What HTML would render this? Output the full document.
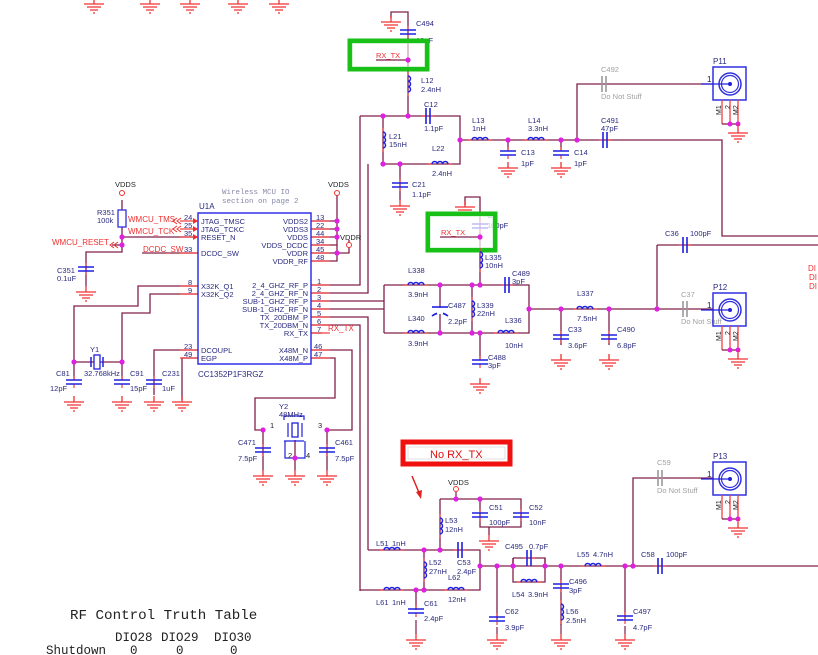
<!DOCTYPE html>
<html><head><meta charset="utf-8"><style>
html,body{margin:0;padding:0;background:#fff;width:818px;height:655px;overflow:hidden}
svg{display:block}
text{font-family:"Liberation Sans",sans-serif;font-size:7.5px;fill:#2a2a80}
.r{fill:#f03030}
.g{fill:#a0a0a0}
.m{font-family:"Liberation Mono",monospace;fill:#222}
</style></head><body>
<svg width="818" height="655" viewBox="0 0 818 655" xmlns="http://www.w3.org/2000/svg">
<defs>
<g id="gnd"><path d="M0,-6V0M-10,0H10M-7,3H7M-4,6H4M-1,9H1" stroke="#f03030" stroke-width="1.3" fill="none"/></g>
<g id="cv"><path d="M0,-6V-2M0,2V6" stroke="#f04040" stroke-width="1.2"/><path d="M-8,-2H8M-8,2H8" stroke="#2020e0" stroke-width="1.6"/></g>
<g id="ch"><path d="M-6,0H-2M2,0H6" stroke="#f04040" stroke-width="1.2"/><path d="M-2,-8V8M2,-8V8" stroke="#2020e0" stroke-width="1.6"/></g>
<g id="chg"><path d="M-2,-8V8M2,-8V8" stroke="#999" stroke-width="1.6"/></g>
<g id="ih"><path d="M-12,0H-8M8,0H12" stroke="#f04040" stroke-width="1.2"/><path d="M-8,0a2.67,2.67 0 0 1 5.33,0a2.67,2.67 0 0 1 5.33,0a2.67,2.67 0 0 1 5.33,0" stroke="#2020e0" stroke-width="1.5" fill="none"/></g>
<g id="iv"><use href="#ih" transform="rotate(90)"/></g>
<circle id="d" r="2.6" fill="#e020e0"/>
<g id="conn">
<rect x="0" y="0" width="33" height="33" fill="none" stroke="#3030e0" stroke-width="1.5"/>
<circle cx="17" cy="17" r="11" fill="none" stroke="#3030e0" stroke-width="1.5"/>
<circle cx="17" cy="17" r="8.5" fill="none" stroke="#3030e0" stroke-width="1.2"/>
<circle cx="17" cy="17" r="2" fill="#2020e0"/>
<path d="M-12,17H17" stroke="#2020e0" stroke-width="1.2"/>
<path d="M9,33V57M17,33V57M25,33V57" stroke="#f04040" stroke-width="1.3"/>
<path d="M9,57H25" stroke="#80204a" stroke-width="1.3"/>
<circle cx="17" cy="57" r="2.5" fill="#e020e0"/><circle cx="25" cy="57" r="2.5" fill="#e020e0"/>
<path d="M25,57V60" stroke="#f03030"/>
<use href="#gnd" x="25" y="66"/>
<text x="-6" y="15" style="font-size:8px;fill:#222">1</text>
<text transform="translate(8,48) rotate(-90)" style="font-size:7px;fill:#222">M1</text>
<text transform="translate(17,42) rotate(-90)" style="font-size:7px;fill:#222">2</text>
<text transform="translate(25,48) rotate(-90)" style="font-size:7px;fill:#222">M2</text>
</g>
</defs>

<g stroke="#80204a"><path d="M94,0V4M150,0V4M190,0V4M238,0V4M279,0V4"/></g>
<use href="#gnd" x="94" y="4"/><use href="#gnd" x="150" y="4"/><use href="#gnd" x="190" y="4"/><use href="#gnd" x="238" y="4"/><use href="#gnd" x="279" y="4"/>

<g stroke="#80204a" stroke-width="1.3" fill="none">
<path d="M391,18V12H408V116"/>
<path d="M360,116H460V164H383V116M460,140H577M577,140V84H713M577,140H722V236H818"/>
<path d="M400,164V200M508,140V150M561,140V150"/>
<path d="M360,116V285H311M368,164V293H311"/>
<path d="M311,221H337V261H311M311,229H337M311,237H337M311,245H337M311,253H349V240M311,261H337"/>
<path d="M337,195V221"/>
<path d="M311,301H384M311,309H384M384,285V333"/>
<path d="M311,317H368V550M311,325H360V591"/>
<path d="M311,333H322"/>
<path d="M311,350H352V430H327M311,358H335V398H255V430H263"/>
<path d="M122,200V237H198M122,237V252H86V286M122,245H112"/>
<path d="M142,253H198"/>
<path d="M198,286H138V306H74V380M198,294H150V313H122V380"/>
<path d="M198,350H154V395M198,358H182V400"/>
<path d="M74,362H122"/>
<path d="M263,430V470M327,430V470M295,440V470"/>
<path d="M465,205V197H480V285"/>
<path d="M384,285H529V333H384M440,285V333M472,285V333M480,333V360M529,309H657M561,309V345M609,309V345M657,245V309H713M657,245H818"/>
<path d="M368,550H480V590H360M424,550V590M416,590V610M440,499V550M440,499H521V527H480V499M489,527V535"/>
<path d="M480,566H633V478H713M633,566H818M497,566V620M513,558V582H545V558H513M561,566V625M625,566V620"/>
<path d="M513,566V558M545,566V558"/>
</g>

<g stroke="#f04040" stroke-width="1.3">
<path d="M180,221H198M180,229H198M180,237H198M180,253H198M180,286H198M180,294H198M180,350H198M180,358H198"/>
<path d="M311,221H330M311,229H330M311,237H330M311,245H330M311,253H330M311,261H330M311,285H330M311,293H330M311,301H330M311,309H330M311,317H330M311,325H330M311,333H330M311,350H330M311,358H330"/>
</g>

<rect x="198" y="213" width="113" height="151" fill="none" stroke="#3030e8" stroke-width="1.5"/>
<g style="font-size:8px">
<text x="201" y="224">JTAG_TMSC</text><text x="201" y="232">JTAG_TCKC</text><text x="201" y="240">RESET_N</text>
<text x="201" y="256">DCDC_SW</text><text x="201" y="289">X32K_Q1</text><text x="201" y="297">X32K_Q2</text>
<text x="201" y="353">DCOUPL</text><text x="201" y="361">EGP</text>
</g>
<g style="font-size:8px" text-anchor="end">
<text x="308" y="224">VDDS2</text><text x="308" y="232">VDDS3</text><text x="308" y="240">VDDS</text><text x="308" y="248">VDDS_DCDC</text><text x="308" y="256">VDDR</text><text x="308" y="264">VDDR_RF</text>
<text x="308" y="288">2_4_GHZ_RF_P</text><text x="308" y="296">2_4_GHZ_RF_N</text><text x="308" y="304">SUB-1_GHZ_RF_P</text><text x="308" y="312">SUB-1_GHZ_RF_N</text><text x="308" y="320">TX_20DBM_P</text><text x="308" y="328">TX_20DBM_N</text><text x="308" y="336">RX_TX</text>
<text x="308" y="353">X48M_N</text><text x="308" y="361">X48M_P</text>
</g>
<g style="font-size:7.5px;fill:#222">
<text x="184" y="220">24</text><text x="184" y="228">25</text><text x="184" y="236">35</text><text x="184" y="252">33</text><text x="188" y="285">8</text><text x="188" y="293">9</text><text x="184" y="349">23</text><text x="184" y="357">49</text>
<text x="316" y="220">13</text><text x="316" y="228">22</text><text x="316" y="236">44</text><text x="316" y="244">34</text><text x="316" y="252">45</text><text x="316" y="260">48</text>
<text x="317" y="284">1</text><text x="317" y="292">2</text><text x="317" y="300">3</text><text x="317" y="308">4</text><text x="317" y="316">5</text><text x="317" y="324">6</text><text x="317" y="332">7</text><text x="314" y="349">46</text><text x="314" y="357">47</text>
</g>
<text x="199" y="209" style="font-size:8px">U1A</text>
<text x="222" y="194" style="font-family:'Liberation Mono',monospace;font-size:7.5px;fill:#8888aa">Wireless MCU IO</text>
<text x="222" y="203" style="font-family:'Liberation Mono',monospace;font-size:7.5px;fill:#8888aa">section on page 2</text>
<text x="198" y="377" style="font-size:8px">CC1352P1F3RGZ</text>
<text x="328" y="331" class="r" style="font-size:8px">RX_TX</text>

<text x="115" y="187" style="font-size:7.5px;fill:#222">VDDS</text><circle cx="122" cy="193" r="2.5" fill="#fff" stroke="#f03030"/>
<text x="328" y="187" style="font-size:7.5px;fill:#222">VDDS</text><circle cx="337" cy="193" r="2.5" fill="#fff" stroke="#f03030"/>
<text x="340" y="240" style="font-size:7.5px;fill:#222">VDDR</text><circle cx="349" cy="245" r="2.5" fill="#fff" stroke="#f03030"/>
<rect x="118" y="210" width="8" height="17" fill="#fff" stroke="#3030e0" stroke-width="1.3"/>
<text x="97" y="215">R351</text><text x="97" y="223">100k</text>
<text x="128" y="222" class="r" style="font-size:8px">WMCU_TMS</text>
<text x="128" y="234" class="r" style="font-size:8px">WMCU_TCK</text>
<text x="52" y="245" class="r" style="font-size:8px">WMCU_RESET</text>
<text x="143" y="252" class="r" style="font-size:8px">DCDC_SW</text>
<g stroke="#f03030" fill="none" stroke-width="1"><path d="M181,218l-4,3 4,3M177,218l-4,3 4,3M181,226l-4,3 4,3M177,226l-4,3 4,3M118,242l-4,3 4,3M114,242l-4,3 4,3"/></g>
<g fill="#f03030"><path d="M193,218l5,3-5,3zM193,226l5,3-5,3zM193,234l5,3-5,3z"/></g>
<use href="#cv" x="86" y="269"/><text x="57" y="273">C351</text><text x="57" y="281">0.1uF</text>
<use href="#gnd" x="86" y="292"/>
<use href="#d" x="122" y="237"/><use href="#d" x="122" y="245"/>
<use href="#d" x="337" y="221"/><use href="#d" x="337" y="229"/><use href="#d" x="337" y="237"/><use href="#d" x="337" y="253"/>

<rect x="94" y="355" width="6" height="14" fill="#fff" stroke="#2020e0" stroke-width="1.3"/>
<path d="M91,357V367M103,357V367" stroke="#2020e0" stroke-width="1.5"/>
<use href="#d" x="74" y="362"/><use href="#d" x="122" y="362"/>
<text x="90" y="352">Y1</text><text x="84" y="376">32.768kHz</text>
<use href="#cv" x="74" y="382"/><text x="56" y="376">C81</text><text x="50" y="391">12pF</text>
<use href="#cv" x="122" y="382"/><text x="130" y="376">C91</text><text x="130" y="391">15pF</text>
<use href="#cv" x="154" y="382"/><text x="162" y="376">C231</text><text x="162" y="391">1uF</text>
<use href="#gnd" x="74" y="402"/><use href="#gnd" x="122" y="402"/><use href="#gnd" x="154" y="402"/><use href="#gnd" x="182" y="402"/>
<rect x="292" y="423" width="6" height="14" fill="#fff" stroke="#2020e0" stroke-width="1.3"/>
<path d="M288,423V437M302,423V437M284,420V416H304V420M284,441H304M285,441V458H305V441" stroke="#2020e0" stroke-width="1.2" fill="none"/>
<text x="279" y="409">Y2</text><text x="279" y="417">48MHz</text>
<text x="270" y="428" style="fill:#222">1</text><text x="318" y="428" style="fill:#222">3</text><text x="288" y="458" style="fill:#222">2</text><text x="306" y="458" style="fill:#222">4</text>
<use href="#d" x="263" y="430"/><use href="#d" x="327" y="430"/><use href="#d" x="295" y="458"/>
<use href="#cv" x="263" y="450"/><text x="238" y="445">C471</text><text x="238" y="461">7.5pF</text>
<use href="#cv" x="327" y="450"/><text x="335" y="445">C461</text><text x="335" y="461">7.5pF</text>
<use href="#gnd" x="263" y="476"/><use href="#gnd" x="295" y="476"/><use href="#gnd" x="327" y="476"/>

<use href="#gnd" x="391" y="22"/>
<use href="#cv" x="408" y="32"/><text x="416" y="26">C494</text><text x="416" y="43">12pF</text>
<rect x="350" y="41" width="77" height="28" fill="none" stroke="#18c018" stroke-width="5"/>
<rect x="352" y="43" width="73" height="24" fill="#fff" opacity="0.6"/>
<path d="M376,60H408" stroke="#80204a" stroke-width="1.3"/>
<text x="376" y="58" class="r" style="font-size:7.5px">RX_TX</text>
<use href="#d" x="408" y="60"/>
<use href="#iv" x="408" y="84"/><text x="421" y="83">L12</text><text x="421" y="92">2.4nH</text>
<use href="#ch" x="428" y="116"/><text x="424" y="107">C12</text><text x="424" y="131">1.1pF</text>
<use href="#iv" x="383" y="140"/><text x="389" y="139">L21</text><text x="389" y="147">15nH</text>
<use href="#ih" x="440" y="164"/><text x="432" y="151">L22</text><text x="432" y="176">2.4nH</text>
<use href="#ih" x="480" y="140"/><text x="472" y="123">L13</text><text x="472" y="131">1nH</text>
<use href="#ih" x="536" y="140"/><text x="528" y="123">L14</text><text x="528" y="131">3.3nH</text>
<use href="#cv" x="508" y="153"/><text x="521" y="155">C13</text><text x="521" y="166">1pF</text>
<use href="#cv" x="561" y="153"/><text x="574" y="155">C14</text><text x="574" y="166">1pF</text>
<use href="#gnd" x="508" y="168"/><use href="#gnd" x="561" y="168"/>
<use href="#chg" x="604" y="84"/><text x="601" y="72" class="g">C492</text><text x="601" y="99" class="g">Do Not Stuff</text>
<use href="#ch" x="605" y="140"/><text x="601" y="123">C491</text><text x="601" y="131">47pF</text>
<use href="#cv" x="400" y="185"/><text x="412" y="187">C21</text><text x="412" y="197">1.1pF</text>
<use href="#gnd" x="400" y="206"/>
<use href="#d" x="408" y="116"/><use href="#d" x="383" y="116"/><use href="#d" x="460" y="140"/><use href="#d" x="383" y="164"/><use href="#d" x="400" y="164"/><use href="#d" x="508" y="140"/><use href="#d" x="561" y="140"/><use href="#d" x="577" y="140"/>
<use href="#conn" x="713" y="67"/><text x="713" y="64" style="font-size:8px">P11</text>

<use href="#gnd" x="465" y="207"/>
<use href="#cv" x="480" y="226"/><text x="487" y="218">C4</text><text x="487" y="228">100pF</text>
<rect x="428" y="214" width="67" height="36" fill="none" stroke="#18c018" stroke-width="5"/>
<rect x="430" y="216" width="63" height="32" fill="#fff" opacity="0.7"/>
<path d="M440,237H480" stroke="#80204a" stroke-width="1.3"/>
<text x="441" y="235" class="r" style="font-size:7.5px">RX_TX</text>
<use href="#d" x="480" y="237"/>
<use href="#iv" x="480" y="260"/><text x="485" y="260">L335</text><text x="485" y="268">10nH</text>
<use href="#ih" x="416" y="285"/><text x="408" y="273">L338</text><text x="408" y="297">3.9nH</text>
<use href="#ih" x="416" y="333"/><text x="408" y="321">L340</text><text x="408" y="346">3.9nH</text>
<path d="M432,307H448" stroke="#2020e0" stroke-width="1.6"/><path d="M432,316Q440,310 448,316" stroke="#2020e0" stroke-width="1.6" fill="none"/>
<rect x="437" y="308" width="6" height="6" fill="#fff"/>
<text x="448" y="308">C487</text><text x="448" y="324">2.2pF</text>
<use href="#iv" x="472" y="309"/><text x="477" y="308">L339</text><text x="477" y="316">22nH</text>
<use href="#ch" x="507" y="285"/><text x="512" y="276">C489</text><text x="512" y="284">3pF</text>
<use href="#ih" x="506" y="333"/><text x="505" y="323">L336</text><text x="505" y="348">10nH</text>
<use href="#cv" x="480" y="362"/><text x="488" y="360">C488</text><text x="488" y="368">3pF</text>
<use href="#gnd" x="480" y="384"/>
<use href="#ih" x="585" y="309"/><text x="577" y="296">L337</text><text x="577" y="321">7.5nH</text>
<use href="#cv" x="561" y="337"/><text x="568" y="332">C33</text><text x="568" y="348">3.6pF</text>
<use href="#cv" x="609" y="337"/><text x="617" y="332">C490</text><text x="617" y="348">6.8pF</text>
<use href="#gnd" x="561" y="360"/><use href="#gnd" x="609" y="360"/>
<use href="#ch" x="685" y="245"/><text x="665" y="236">C36</text><text x="690" y="236">100pF</text>
<use href="#chg" x="685" y="309"/><text x="681" y="297" class="g">C37</text><text x="681" y="324" class="g">Do Not Stuff</text>
<use href="#d" x="440" y="285"/><use href="#d" x="472" y="285"/><use href="#d" x="480" y="285"/><use href="#d" x="440" y="333"/><use href="#d" x="472" y="333"/><use href="#d" x="480" y="333"/>
<use href="#d" x="529" y="309"/><use href="#d" x="561" y="309"/><use href="#d" x="609" y="309"/><use href="#d" x="657" y="309"/>
<use href="#conn" x="713" y="293"/><text x="713" y="290" style="font-size:8px">P12</text>
<text x="808" y="271" class="r" style="font-size:8px">DI</text><text x="809" y="280" class="r" style="font-size:8px">DI</text><text x="809" y="289" class="r" style="font-size:8px">DI</text>

<rect x="403" y="442" width="107" height="22" fill="#fff" stroke="#f01010" stroke-width="5"/>
<rect x="408" y="447" width="97" height="12" fill="#fff" stroke="#ccc" stroke-width="0.6"/>
<text x="430" y="458" style="font-size:11px;fill:#e01010">No RX_TX</text>
<path d="M412,476L420,495" stroke="#e02020" stroke-width="1.5"/><path d="M416,492l5,7 1,-9z" fill="#e02020"/>
<text x="448" y="485" style="fill:#222">VDDS</text><circle cx="456" cy="489" r="2.5" fill="#fff" stroke="#f03030"/>
<path d="M456,492V499" stroke="#80204a" stroke-width="1.2"/>
<use href="#cv" x="480" y="515"/><text x="489" y="510">C51</text><text x="489" y="525">100pF</text>
<use href="#cv" x="521" y="515"/><text x="529" y="510">C52</text><text x="529" y="525">10nF</text>
<use href="#gnd" x="489" y="541"/>
<use href="#iv" x="440" y="526"/><text x="445" y="523">L53</text><text x="445" y="532">12nH</text>
<use href="#ih" x="392" y="550"/><text x="376" y="546">L51</text><text x="392" y="546">1nH</text>
<use href="#ch" x="460" y="550"/><text x="457" y="565">C53</text><text x="457" y="574">2.4pF</text>
<use href="#iv" x="424" y="570"/><text x="429" y="565">L52</text><text x="429" y="574">27nH</text>
<use href="#ih" x="456" y="590"/><text x="448" y="580">L62</text><text x="448" y="602">12nH</text>
<use href="#ih" x="392" y="590"/><text x="376" y="605">L61</text><text x="392" y="605">1nH</text>
<use href="#cv" x="416" y="611"/><text x="424" y="606">C61</text><text x="424" y="621">2.4pF</text>
<use href="#cv" x="497" y="619"/><text x="505" y="614">C62</text><text x="505" y="630">3.9pF</text>
<use href="#ch" x="529" y="558"/><text x="505" y="549">C495</text><text x="529" y="549">0.7pF</text>
<use href="#ih" x="529" y="582"/><text x="512" y="597">L54</text><text x="528" y="597">3.9nH</text>
<use href="#cv" x="561" y="586"/><text x="569" y="584">C496</text><text x="569" y="593">3pF</text>
<use href="#iv" x="561" y="612"/><text x="566" y="614">L56</text><text x="566" y="623">2.5nH</text>
<use href="#ih" x="593" y="566"/><text x="577" y="557">L55</text><text x="593" y="557">4.7nH</text>
<use href="#cv" x="625" y="618"/><text x="633" y="614">C497</text><text x="633" y="630">4.7pF</text>
<use href="#ch" x="660" y="566"/><text x="641" y="557">C58</text><text x="666" y="557">100pF</text>
<use href="#chg" x="660" y="478"/><text x="657" y="465" class="g">C59</text><text x="657" y="493" class="g">Do Not Stuff</text>
<use href="#gnd" x="416" y="640"/><use href="#gnd" x="497" y="640"/><use href="#gnd" x="561" y="640"/><use href="#gnd" x="625" y="640"/>
<path d="M416,620V634M497,627V634M561,624V634M625,626V634" stroke="#80204a" stroke-width="1.2"/>
<use href="#d" x="456" y="499"/><use href="#d" x="480" y="499"/><use href="#d" x="424" y="550"/><use href="#d" x="440" y="550"/><use href="#d" x="480" y="566"/>
<use href="#d" x="416" y="590"/><use href="#d" x="424" y="590"/><use href="#d" x="497" y="566"/><use href="#d" x="513" y="566"/><use href="#d" x="545" y="566"/><use href="#d" x="561" y="566"/><use href="#d" x="625" y="566"/><use href="#d" x="633" y="566"/>
<use href="#conn" x="713" y="462"/><text x="713" y="459" style="font-size:8px">P13</text>

<text x="70" y="619" class="m" style="font-size:14.2px">RF Control Truth Table</text>
<text x="115" y="641" class="m" style="font-size:12.5px">DIO28</text>
<text x="161" y="641" class="m" style="font-size:12.5px">DIO29</text>
<text x="214" y="641" class="m" style="font-size:12.5px">DIO30</text>
<text x="46" y="654" class="m" style="font-size:12.5px">Shutdown</text>
<text x="130" y="654" class="m" style="font-size:12.5px">0</text>
<text x="176" y="654" class="m" style="font-size:12.5px">0</text>
<text x="230" y="654" class="m" style="font-size:12.5px">0</text>
</svg>
</body></html>
